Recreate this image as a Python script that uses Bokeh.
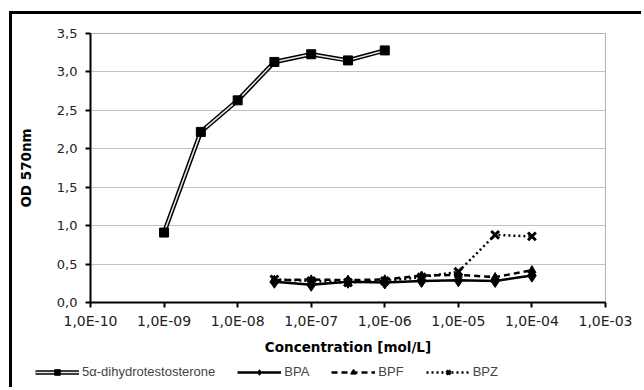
from bokeh.plotting import figure
from bokeh.layouts import column
from bokeh.models import (FixedTicker, Legend, LegendItem, ColumnDataSource,
                          InlineStyleSheet)
from bokeh.embed import file_html
from bokeh.resources import INLINE

# ---- data ----
dht_conc = [1e-9, 3.16e-9, 1e-8, 3.16e-8, 1e-7, 3.16e-7, 1e-6]
dht_od = [0.91, 2.22, 2.63, 3.13, 3.23, 3.15, 3.28]

bp_conc = [3.16e-8, 1e-7, 3.16e-7, 1e-6, 3.16e-6, 1e-5, 3.16e-5, 1e-4]
bpa_od = [0.27, 0.23, 0.27, 0.26, 0.28, 0.29, 0.28, 0.35]
bpf_od = [0.29, 0.30, 0.29, 0.30, 0.35, 0.36, 0.33, 0.42]
bpz_od = [0.30, 0.28, 0.26, 0.28, 0.33, 0.40, 0.88, 0.86]

series_names = ["5\u03b1-dihydrotestosterone", "BPA", "BPF", "BPZ"]

x_ticks = [1e-10, 1e-9, 1e-8, 1e-7, 1e-6, 1e-5, 1e-4, 1e-3]
x_tick_labels = ["1,0E-10", "1,0E-09", "1,0E-08", "1,0E-07", "1,0E-06",
                 "1,0E-05", "1,0E-04", "1,0E-03"]
y_ticks = [0.0, 0.5, 1.0, 1.5, 2.0, 2.5, 3.0, 3.5]
y_tick_labels = ["0,0", "0,5", "1,0", "1,5", "2,0", "2,5", "3,0", "3,5"]

FONT = "DejaVu Sans"

p = figure(width=632, height=348, x_axis_type="log",
           x_range=(1e-10, 1e-3), y_range=(0, 3.5),
           output_backend="svg", toolbar_location=None,
           min_border_left=78, min_border_right=39,
           min_border_top=19, min_border_bottom=60)
p.margin = (11, 0, 0, 9)
p.frame_align = False
p.stylesheets = [InlineStyleSheet(
    css=":host { border-left: 3px solid black; border-top: 3px solid black; }")]

p.outline_line_color = "#b0b0b0"
p.outline_line_width = 1
p.xgrid.grid_line_color = None
p.ygrid.grid_line_color = "#c0c0c0"
p.ygrid.grid_line_width = 1

# axes
p.xaxis.ticker = FixedTicker(ticks=x_ticks)
p.xaxis.major_label_overrides = {t: l for t, l in zip(x_ticks, x_tick_labels)}
p.yaxis.ticker = FixedTicker(ticks=y_ticks)
p.yaxis.major_label_overrides = {t: l for t, l in zip(y_ticks, y_tick_labels)}
for ax in (p.xaxis, p.yaxis):
    ax.axis_line_color = "black"
    ax.axis_line_width = 2
    ax.major_tick_line_color = "black"
    ax.major_tick_line_width = 2
    ax.major_tick_out = 5
    ax.major_tick_in = 0
    ax.minor_tick_line_color = None
    ax.major_label_text_font = FONT
    ax.major_label_text_color = "#222222"
    ax.axis_label_text_font = FONT
    ax.axis_label_text_font_style = "bold"
    ax.axis_label_text_font_size = "13.5px"
    ax.axis_label_text_color = "black"
p.xaxis.major_label_text_font_size = "14px"
p.yaxis.major_label_text_font_size = "13px"
p.yaxis.major_label_standoff = 8
p.xaxis.major_label_standoff = 5
p.xaxis.axis_label = "Concentration [mol/L]"
p.yaxis.axis_label = "OD 570nm"
p.xaxis.axis_label_standoff = 7
p.yaxis.axis_label_standoff = 20

# series styles
DHT_OUT = dict(line_color="black", line_width=4.5)
DHT_IN = dict(line_color="#e6e6e6", line_width=1.5)
DHT_M = dict(marker="square", size=9, fill_color="black", line_color="black")
BPA_L = dict(line_color="black", line_width=2.5)
BPA_M = dict(marker="diamond", size=13, fill_color="black", line_color="black")
BPF_L = dict(line_color="black", line_width=2.5, line_dash="6 4")
BPF_M = dict(marker="triangle", size=8, fill_color="black", line_color="black")
BPZ_L = dict(line_color="black", line_width=2.5, line_dash="2 3")
BPZ_M = dict(marker="x", size=11, line_color="black", line_width=3)

dht_src = ColumnDataSource(dict(x=dht_conc, y=dht_od))
bp_src = ColumnDataSource(dict(x=bp_conc, a=bpa_od, f=bpf_od, z=bpz_od))

p.line("x", "y", source=dht_src, **DHT_OUT)
p.line("x", "y", source=dht_src, **DHT_IN)
p.scatter("x", "y", source=dht_src, **DHT_M)
p.line("x", "a", source=bp_src, **BPA_L)
p.scatter("x", "a", source=bp_src, **BPA_M)
p.line("x", "f", source=bp_src, **BPF_L)
p.scatter("x", "f", source=bp_src, **BPF_M)
p.line("x", "z", source=bp_src, **BPZ_L)
p.scatter("x", "z", source=bp_src, **BPZ_M)

# legend strip: a separate figure whose ranges exclude the data, so only the
# legend is visible there (and the legend is not clipped by the main frame)
lf = figure(width=632, height=28, x_range=(2, 3), y_range=(5, 6),
            x_axis_location=None, y_axis_location=None,
            output_backend="svg", toolbar_location=None, min_border=0)
lf.margin = (0, 0, 0, 9)
lf.frame_align = False
lf.stylesheets = [InlineStyleSheet(css=":host { border-left: 3px solid black; }")]
lf.grid.visible = False
lf.outline_line_color = None
l_d = [lf.line("x", "y", source=dht_src, **DHT_OUT),
       lf.line("x", "y", source=dht_src, **DHT_IN),
       lf.scatter("x", "y", source=dht_src, **DHT_M)]
l_a = [lf.line("x", "a", source=bp_src, **BPA_L),
       lf.scatter("x", "a", source=bp_src, **BPA_M)]
l_f = [lf.line("x", "f", source=bp_src, **BPF_L),
       lf.scatter("x", "f", source=bp_src, **BPF_M)]
l_z = [lf.line("x", "z", source=bp_src, **BPZ_L),
       lf.scatter("x", "z", source=bp_src, **BPZ_M)]

legend = Legend(items=[LegendItem(label=n, renderers=r) for n, r in
                       zip(series_names, [l_d, l_a, l_f, l_z])],
                orientation="horizontal", location=(23, 8),
                glyph_width=44, glyph_height=14, label_standoff=3, spacing=22,
                padding=2, margin=0, label_text_font="Liberation Sans",
                label_text_font_size="13px", label_height=14,
                background_fill_alpha=0, border_line_color=None)
lf.add_layout(legend, "center")

layout = column(p, lf, spacing=0)
open("out.html", "w").write(file_html(layout, INLINE))
